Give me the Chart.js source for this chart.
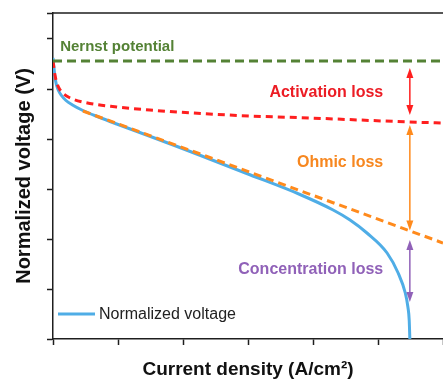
<!DOCTYPE html>
<html>
<head>
<meta charset="utf-8">
<script src="https://cdn.jsdelivr.net/npm/chart.js@4.4.1/dist/chart.umd.min.js"></script>
<style>
  html, body { margin: 0; padding: 0; background: #fff; }
  #wrap { width: 443px; height: 381px; }
</style>
</head>
<body>
<div id="wrap"><canvas id="polChart" width="443" height="381"></canvas></div>
<script>
// Polarization curve values (current density, normalized voltage)
const voltageX = [0, 0.01, 0.03, 0.05, 0.08, 0.13, 0.2, 0.3, 0.46, 0.7, 0.98, 1.49, 1.91, 2.26, 3.03, 3.80, 4.31, 4.57, 4.83, 5.14, 5.31, 5.42, 5.46, 5.48, 5.49];
const voltageY = [5.62, 5.48, 5.25, 5.10, 4.98, 4.87, 4.77, 4.68, 4.57, 4.44, 4.30, 4.055, 3.85, 3.675, 3.285, 2.89, 2.58, 2.38, 2.12, 1.72, 1.32, 0.92, 0.64, 0.38, 0.0];

const activationX = [0, 0.015, 0.03, 0.06, 0.1, 0.15, 0.25, 0.46, 0.98, 1.49, 1.91, 3.03, 3.95, 5.49, 6.0];
const activationY = [5.56, 5.42, 5.28, 5.12, 5.00, 4.92, 4.83, 4.74, 4.64, 4.58, 4.54, 4.46, 4.42, 4.34, 4.32];

const ohmicX = [0.46, 6.0];
const ohmicY = [4.56, 1.92];

const nernstX = [0, 6.0];
const nernstY = [5.56, 5.56];

// Loss arrows at a fixed current density
const lossX = 5.49;
const lossNames = ['Activation loss', 'Ohmic loss', 'Concentration loss'];
const lossTop = [5.42, 4.28, 1.98];
const lossBottom = [4.48, 2.17, 0.74];

const COLORS = {
    green: '#548235',
    red: '#ff1f1f',
    redText: '#ec1c24',
    orange: '#ff8a1c',
    orangeText: '#f7871f',
    blue: '#4fade6',
    purple: '#9061b8',
    axis: '#1e1e1e'
};

const FONT = '"Liberation Sans", Arial, sans-serif';

const toPoints = (xs, ys) => xs.map((x, i) => ({ x, y: ys[i] }));

const lossColors = [COLORS.red, COLORS.orange, COLORS.purple];
const lossTextColors = [COLORS.redText, COLORS.orangeText, COLORS.purple];
// label anchor (right edge, middle) in data units
const lossLabelPos = [{ x: 5.08, y: 4.92 }, { x: 5.08, y: 3.52 }, { x: 5.08, y: 1.38 }];

function drawArrow(ctx, x, y1, y2, color) {
    const head = 10, half = 3.5;
    ctx.save();
    ctx.strokeStyle = color;
    ctx.fillStyle = color;
    ctx.lineWidth = 1.5;
    ctx.beginPath();
    ctx.moveTo(x, y1 + head - 1);
    ctx.lineTo(x, y2 - head + 1);
    ctx.stroke();
    ctx.beginPath();
    ctx.moveTo(x, y1);
    ctx.lineTo(x - half, y1 + head);
    ctx.lineTo(x + half, y1 + head);
    ctx.closePath();
    ctx.fill();
    ctx.beginPath();
    ctx.moveTo(x, y2);
    ctx.lineTo(x - half, y2 - head);
    ctx.lineTo(x + half, y2 - head);
    ctx.closePath();
    ctx.fill();
    ctx.restore();
}

const annotations = {
    id: 'annotations',
    afterDatasetsDraw(chart) {
        const { ctx, chartArea, scales: { x, y } } = chart;

        // top frame line
        ctx.save();
        ctx.strokeStyle = COLORS.axis;
        ctx.lineWidth = 1.5;
        ctx.beginPath();
        ctx.moveTo(chartArea.left, chartArea.top);
        ctx.lineTo(chartArea.right, chartArea.top);
        ctx.stroke();
        ctx.restore();

        // loss arrows and their labels
        const ax = x.getPixelForValue(lossX);
        lossNames.forEach((name, i) => {
            drawArrow(ctx, ax, y.getPixelForValue(lossTop[i]), y.getPixelForValue(lossBottom[i]), lossColors[i]);
            ctx.save();
            ctx.font = 'bold 16px ' + FONT;
            ctx.fillStyle = lossTextColors[i];
            ctx.textAlign = 'right';
            ctx.textBaseline = 'middle';
            ctx.fillText(name, x.getPixelForValue(lossLabelPos[i].x), y.getPixelForValue(lossLabelPos[i].y));
            ctx.restore();
        });

        // Nernst label
        ctx.save();
        ctx.font = 'bold 15px ' + FONT;
        ctx.fillStyle = COLORS.green;
        ctx.textAlign = 'left';
        ctx.textBaseline = 'middle';
        ctx.fillText('Nernst potential', x.getPixelForValue(0.11), y.getPixelForValue(5.84));
        ctx.restore();

        // legend entry, bottom left
        const ly = chartArea.bottom - 25;
        const lx = chartArea.left + 5;
        ctx.save();
        ctx.strokeStyle = COLORS.blue;
        ctx.lineWidth = 3;
        ctx.beginPath();
        ctx.moveTo(lx, ly);
        ctx.lineTo(lx + 37, ly);
        ctx.stroke();
        ctx.font = '16px ' + FONT;
        ctx.fillStyle = '#222';
        ctx.textAlign = 'left';
        ctx.textBaseline = 'middle';
        ctx.fillText('Normalized voltage', lx + 41, ly + 1);
        ctx.restore();
    }
};

const tickMarks = {
    display: true,
    drawOnChartArea: false,
    drawTicks: true,
    tickLength: 6,
    tickWidth: 1.5,
    tickColor: COLORS.axis
};

new Chart(document.getElementById('polChart').getContext('2d'), {
    type: 'line',
    data: {
        datasets: [
            {
                label: 'Nernst potential',
                data: toPoints(nernstX, nernstY),
                borderColor: COLORS.green,
                borderWidth: 3,
                borderDash: [9, 5],
                pointRadius: 0
            },
            {
                label: 'Activation',
                data: toPoints(activationX, activationY),
                borderColor: COLORS.red,
                borderWidth: 3,
                borderDash: [7, 5],
                pointRadius: 0,
                cubicInterpolationMode: 'monotone'
            },
            {
                label: 'Ohmic',
                data: toPoints(ohmicX, ohmicY),
                borderColor: COLORS.orange,
                borderWidth: 3,
                borderDash: [8, 5],
                pointRadius: 0
            },
            {
                label: 'Normalized voltage',
                data: toPoints(voltageX, voltageY),
                borderColor: COLORS.blue,
                borderWidth: 3,
                pointRadius: 0,
                cubicInterpolationMode: 'monotone'
            }
        ]
    },
    options: {
        responsive: false,
        animation: false,
        devicePixelRatio: 1,
        layout: { padding: { top: 13, right: 0, bottom: 0, left: 0 } },
        plugins: {
            legend: { display: false },
            tooltip: { enabled: false }
        },
        scales: {
            x: {
                type: 'linear',
                min: 0,
                max: 6,
                ticks: { display: false, stepSize: 1 },
                grid: tickMarks,
                border: { display: true, color: COLORS.axis, width: 1.5 },
                title: {
                    display: true,
                    text: 'Current density (A/cm²)',
                    color: '#111',
                    font: { family: FONT, size: 19, weight: 'bold' },
                    padding: { top: 0, bottom: 0 }
                },
                afterFit(scale) { scale.height = 42; }
            },
            y: {
                type: 'linear',
                min: 0,
                max: 6.52,
                ticks: { display: false, stepSize: 1 },
                grid: tickMarks,
                border: { display: true, color: COLORS.axis, width: 1.5 },
                title: {
                    display: true,
                    text: 'Normalized voltage (V)',
                    color: '#111',
                    font: { family: FONT, size: 20, weight: 'bold' },
                    padding: { top: 12, bottom: 0 }
                },
                afterFit(scale) { scale.width = 53; }
            }
        }
    },
    plugins: [annotations]
});
</script>
</body>
</html>
